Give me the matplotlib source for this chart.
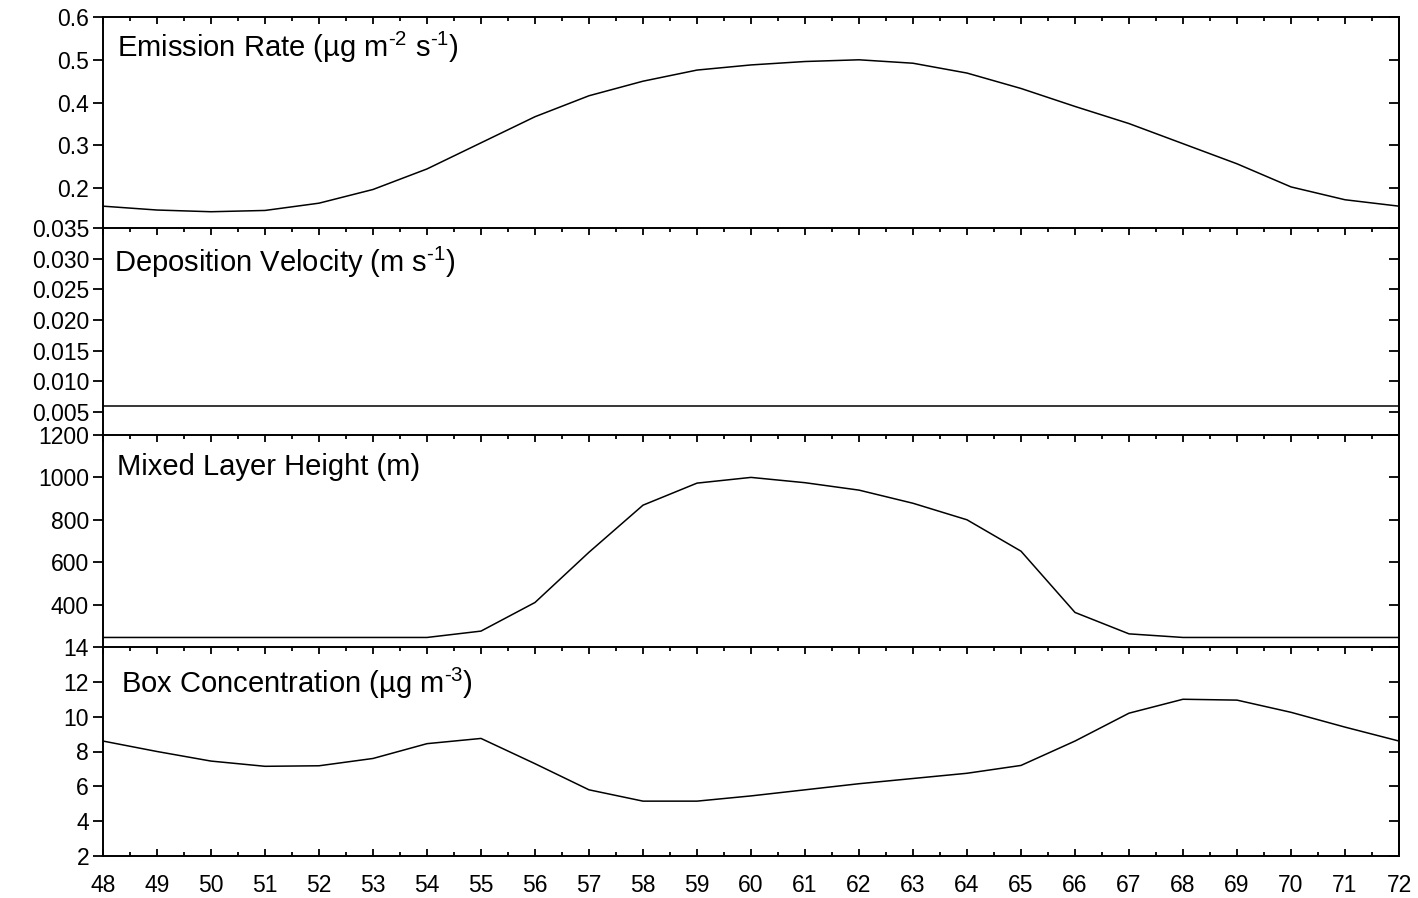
import numpy as np
import matplotlib
matplotlib.use('Agg')
import matplotlib.pyplot as plt
from matplotlib.ticker import MultipleLocator, FixedLocator, FormatStrFormatter

plt.rcParams['font.family'] = ['Liberation Sans', 'DejaVu Sans']
plt.rcParams['mathtext.fontset'] = 'custom'
plt.rcParams['mathtext.rm'] = 'Liberation Sans'
plt.rcParams['mathtext.it'] = 'Liberation Sans'

# hours
hours = list(range(48, 73))

# emission rate (ug m-2 s-1)
emission = [0.158, 0.149, 0.145, 0.148, 0.165, 0.197, 0.245, 0.306, 0.367, 0.416,
            0.450, 0.476, 0.488, 0.496, 0.500, 0.492, 0.469, 0.433, 0.391, 0.351,
            0.304, 0.257, 0.203, 0.173, 0.158]

# deposition velocity (m s-1)
deposition = [0.006] * 25

# mixed layer height (m)
mixing = [245, 245, 245, 245, 245, 245, 245, 275, 410, 647, 869, 973, 1000, 975,
          940, 878, 800, 652, 363, 262, 245, 245, 245, 245, 245]

# box concentration (ug m-3)
conc = [8.6, 8.0, 7.45, 7.15, 7.18, 7.6, 8.45, 8.75, 7.3, 5.8, 5.15, 5.15, 5.45,
        5.8, 6.15, 6.45, 6.75, 7.2, 8.6, 10.2, 11.0, 10.95, 10.25, 9.4, 8.6]

hy = '\u2010'  # plain hyphen for the exponents
titles = ['Emission Rate (\u00b5g m$^{%s2}$ s$^{%s1}$)' % (hy, hy),
          'Deposition Velocity (m s$^{%s1}$)' % hy,
          'Mixed Layer Height (m)',
          'Box Concentration (\u00b5g m$^{%s3}$)' % hy]
series = [emission, deposition, mixing, conc]
ylims = [(0.107, 0.6), (0.00125, 0.035), (200, 1200), (2, 14)]
yticks = [[0.2, 0.3, 0.4, 0.5, 0.6],
          [0.005, 0.010, 0.015, 0.020, 0.025, 0.030, 0.035],
          [400, 600, 800, 1000, 1200],
          [2, 4, 6, 8, 10, 12, 14]]
yfmt = ['%.1f', '%.3f', '%d', '%d']
title_pos = [(0.0108, 0.858), (0.0085, 0.836), (0.0108, 0.849), (0.0139, 0.828)]

W, H = 1418, 898
fig = plt.figure(figsize=(W / 100, H / 100), dpi=100)
edges = [17, 228, 435, 647, 856]
left, right = 103, 1399

for i in range(4):
    top, bot = edges[i], edges[i + 1]
    ax = fig.add_axes([left / W, 1 - bot / H, (right - left) / W, (bot - top) / H])
    ax.plot(hours, series[i], color='black', linewidth=1.1)
    ax.set_xlim(48, 72)
    ax.set_ylim(*ylims[i])
    for s in ax.spines.values():
        s.set_linewidth(1.4)
    ax.spines['bottom'].set_visible(i == 3)

    ax.xaxis.set_major_locator(MultipleLocator(1))
    ax.xaxis.set_minor_locator(MultipleLocator(0.5))
    ax.tick_params(axis='x', which='both', direction='in', top=True,
                   bottom=(i == 3), labelbottom=(i == 3), labelsize=16.5, pad=13)
    ax.tick_params(axis='x', which='major', length=5, width=1.3)
    ax.tick_params(axis='x', which='minor', length=3, width=1.3)

    ax.yaxis.set_major_locator(FixedLocator(yticks[i]))
    ax.yaxis.set_major_formatter(FormatStrFormatter(yfmt[i]))
    ax.tick_params(axis='y', which='major', direction='out', length=7, width=1.3,
                   labelsize=16.5, pad=3)

    sec = ax.secondary_yaxis('right')
    sec.yaxis.set_major_locator(FixedLocator(yticks[i]))
    sec.tick_params(axis='y', direction='in', length=7, width=1.3, labelright=False)
    sec.spines['right'].set_linewidth(1.4)

    tx, ty = title_pos[i]
    ax.text(tx, ty, titles[i], transform=ax.transAxes, fontsize=21,
            ha='left', va='center')

fig.savefig('out.png', dpi=100, facecolor='white')
